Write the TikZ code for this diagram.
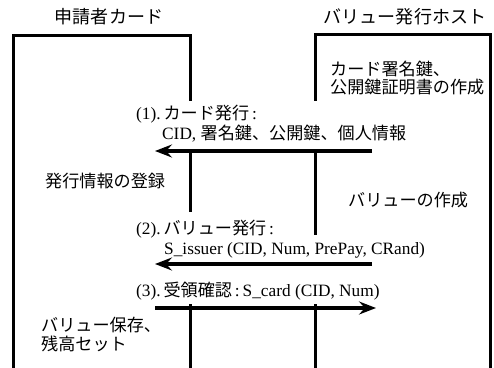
\documentclass[tikz,border=0pt]{standalone}
\usepackage{fontspec}
\setmainfont{Liberation Serif}
\newfontfamily\jp[Scale=0.99]{Noto Sans CJK JP}
\usetikzlibrary{arrows.meta}
\begin{document}
\begin{tikzpicture}[x=1pt,y=-1pt,
  wall/.style={line width=3pt,line cap=rect},
  msg/.style={line width=3.5pt,-{Stealth[length=17pt,width=13pt,inset=6pt]}},
  lbl/.style={anchor=base west,inner sep=0pt,font=\fontsize{17.3}{20}\selectfont},
  ttl/.style={anchor=base,inner sep=0pt,font=\fontsize{18.2}{20}\selectfont\jp}]
\useasboundingbox (0,0) rectangle (494,367);
% titles
\node[ttl] (tcard) at (109,23) {申請者カード};
\node[ttl] (thost) at (405,23) {バリュー発行ホスト};
% left box
\draw[wall] (13,367) -- (13,35) -- (190,35) -- (190,99);
\draw[wall] (190,151) -- (190,210);
\draw[wall] (190,305) -- (190,367);
% right box
\draw[wall] (315,99) -- (315,34) -- (490,34) -- (490,367);
\draw[wall] (315,151) -- (315,233);
\draw[wall] (315,305) -- (315,367);
% texts
\node[lbl] (h1) at (330,75) {\jp カード署名鍵、};
\node[lbl] (h2) at (330,93) {\jp 公開鍵証明書の作成};
\node[lbl] (m1a) at (136,119) {(1).\,{\jp カード発行}\,:};
\node[lbl] (m1b) at (162,139) {CID, {\jp 署名鍵、公開鍵、個人情報}};
\node[lbl] (c1) at (45,187) {\jp 発行情報の登録};
\node[lbl] (h3) at (348,206) {\jp バリューの作成};
\node[lbl] (m2a) at (136,234) {(2).\,{\jp バリュー発行}\,:};
\node[lbl] (m2b) at (164,254) {S\_issuer (CID, Num, PrePay, CRand)};
\node[lbl] (m3) at (136,296) {(3).\,{\jp 受領確認}\,:\,S\_card (CID, Num)};
\node[lbl] (c2a) at (41,331) {\jp バリュー保存、};
\node[lbl] (c2b) at (41,350) {\jp 残高セット};
% arrow end points
\coordinate (a1s) at (372,151);
\coordinate (a1e) at (155,151);
\coordinate (a2s) at (372,264);
\coordinate (a2e) at (155,264);
\coordinate (a3s) at (155,308);
\coordinate (a3e) at (376,308);
\draw[msg] (a1s) -- (a1e);
\draw[msg] (a2s) -- (a2e);
\draw[msg] (a3s) -- (a3e);
\end{tikzpicture}
\end{document}
